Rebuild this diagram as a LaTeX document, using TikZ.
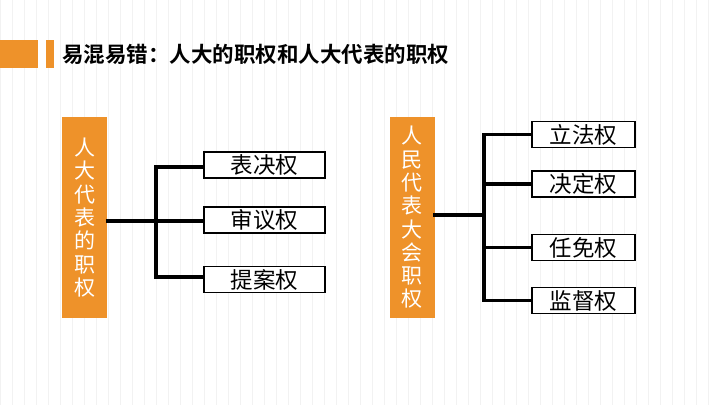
\documentclass[tikz,border=0pt]{standalone}
\usepackage{fontspec}
\newfontfamily\cjk{Noto Sans CJK SC}
\newfontfamily\cjkb{Noto Sans CJK SC Bold}
\definecolor{accent}{RGB}{238,146,42}
\begin{document}
\begin{tikzpicture}[x=1pt,y=-1pt,
  bar/.style={fill=accent,draw=none},
  parentbox/.style={fill=accent,draw=none,minimum width=45pt,minimum height=201pt,
    text=white,font=\cjk\fontsize{21}{23.3}\selectfont,align=center,inner sep=0pt},
  childbox/.style={draw=black,line width=1.4pt,fill=white,minimum height=26pt,
    font=\cjk\fontsize{22.5}{24}\selectfont,inner sep=0pt},
  conn/.style={line width=3.2pt,line cap=rect}]
\useasboundingbox (0,0) rectangle (720,405);
\fill[white] (0,0) rectangle (720,405);
\draw[black!5,line width=0.4pt,step=12] (0,0) grid (720,405);
% title
\fill[bar] (0,40) rectangle (38,68);
\fill[bar] (46,40) rectangle (54,68);
\node[anchor=west,inner sep=0pt,font=\cjkb\fontsize{21.5}{24}\selectfont] (title) at (62,54) {易混易错：人大的职权和人大代表的职权};
% left group
\node[parentbox] (L) at (84.5,217.5) {人\\大\\代\\表\\的\\职\\权};
\node[childbox,minimum width=121pt] (L1) at (264.5,165) {表决权};
\node[childbox,minimum width=121pt] (L2) at (264.5,220) {审议权};
\node[childbox,minimum width=121pt] (L3) at (264.5,279.5) {提案权};
\coordinate (Lj) at (156,221);
\draw[conn] (L.east |- Lj) -- (Lj);
\draw[conn] (156,167) -- (156,277);
\draw[conn] (156,167) -- (L1.west |- 156,167);
\draw[conn] (Lj) -- (L2.west |- Lj);
\draw[conn] (156,277) -- (L3.west |- 156,277);
% right group
\node[parentbox] (R) at (412,217.5) {人\\民\\代\\表\\大\\会\\职\\权};
\node[childbox,minimum width=103pt] (R1) at (583.5,134.5) {立法权};
\node[childbox,minimum width=103pt] (R2) at (583.5,184) {决定权};
\node[childbox,minimum width=103pt] (R3) at (583.5,247.5) {任免权};
\node[childbox,minimum width=103pt] (R4) at (583.5,300.5) {监督权};
\coordinate (Rj) at (484,215);
\draw[conn] (R.east |- Rj) -- (Rj);
\draw[conn] (484,134.5) -- (484,300.5);
\draw[conn] (484,134.5) -- (R1.west);
\draw[conn] (484,184) -- (R2.west);
\draw[conn] (484,247.5) -- (R3.west);
\draw[conn] (484,300.5) -- (R4.west);
\end{tikzpicture}
\end{document}
